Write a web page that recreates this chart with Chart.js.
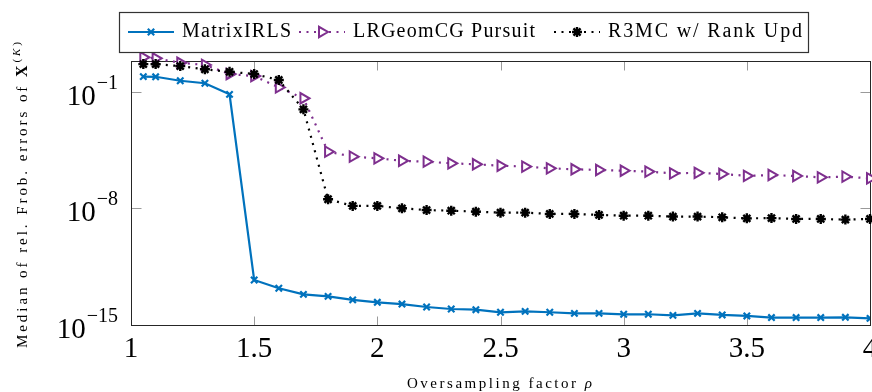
<!DOCTYPE html>
<html>
<head>
<meta charset="utf-8">
<script src="https://cdn.jsdelivr.net/npm/chart.js@4.4.1/dist/chart.umd.min.js"></script>
<style>
  html, body { margin: 0; padding: 0; background: #fff; }
  #wrap { width: 872px; height: 392px; }
</style>
</head>
<body>
<div id="wrap"><canvas id="chart" width="872" height="392"></canvas></div>
<script>
// oversampling factor rho
const rho = [1.05, 1.1, 1.2, 1.3, 1.4, 1.5, 1.6, 1.7, 1.8, 1.9, 2.0, 2.1, 2.2, 2.3, 2.4, 2.5,
  2.6, 2.7, 2.8, 2.9, 3.0, 3.1, 3.2, 3.3, 3.4, 3.5, 3.6, 3.7, 3.8, 3.9, 4.0];

// median relative Frobenius errors
const matrixIRLS = [0.8, 0.78, 0.45, 0.32, 0.069, 5e-13, 1.6e-13, 6.9e-14, 5.2e-14, 3.2e-14,
  2.3e-14, 1.8e-14, 1.2e-14, 9.1e-15, 8.3e-15, 5.8e-15, 6.6e-15, 5.8e-15, 5.0e-15, 5.0e-15,
  4.4e-15, 4.4e-15, 3.8e-15, 5.0e-15, 4.0e-15, 3.5e-15, 2.8e-15, 2.8e-15, 2.8e-15, 2.9e-15, 2.5e-15];
const lrGeomCG = [11.5, 10, 5.4, 4.0, 1.14, 0.86, 0.18, 0.04, 2.5e-5, 1.26e-5,
  1.0e-5, 7.1e-6, 6.3e-6, 5.0e-6, 4.4e-6, 3.6e-6, 3.2e-6, 2.5e-6, 2.2e-6, 2.0e-6,
  1.8e-6, 1.6e-6, 1.26e-6, 1.35e-6, 1.15e-6, 8.9e-7, 1.0e-6, 8.7e-7, 7.2e-7, 7.9e-7, 6.3e-7];
const r3mc = [4.5, 4.5, 3.4, 2.2, 1.55, 1.14, 0.5, 8.7e-3, 3.5e-8, 1.4e-8,
  1.4e-8, 1.0e-8, 7.9e-9, 7.2e-9, 6.3e-9, 5.5e-9, 5.5e-9, 4.6e-9, 4.6e-9, 4.0e-9,
  3.6e-9, 3.6e-9, 3.2e-9, 3.2e-9, 2.9e-9, 2.5e-9, 2.6e-9, 2.3e-9, 2.3e-9, 2.1e-9, 2.3e-9];

const seriesNames = ['MatrixIRLS', 'LRGeomCG Pursuit', 'R3MC w/ Rank Upd'];

const xTickValues = [1, 1.5, 2, 2.5, 3, 3.5, 4];
const xTickLabels = ['1', '1.5', '2', '2.5', '3', '3.5', '4'];
const yTickExponents = [-1, -8, -15];

const SERIF = '"Liberation Serif", "DejaVu Serif", serif';

function toPoints(ys) {
  return rho.map((x, i) => ({ x: x, y: ys[i] }));
}

// text with extra letter spacing so it fills a given width
function spacedWidth(ctx, text) {
  let w = 0;
  for (const c of text) w += ctx.measureText(c).width;
  return w;
}

function drawSpaced(ctx, text, x, y, sp) {
  let cx = x;
  for (const c of text) {
    ctx.fillText(c, cx, y);
    cx += ctx.measureText(c).width + sp;
  }
  return cx;
}

// runs of [text, font, rise] spread over targetWidth
function drawRuns(ctx, runs, x, y, targetWidth) {
  let natural = 0, count = 0;
  runs.forEach((r) => {
    ctx.font = r[1];
    natural += spacedWidth(ctx, r[0]);
    count += [...r[0]].length;
  });
  const sp = count > 1 ? (targetWidth - natural) / (count - 1) : 0;
  let cx = x;
  runs.forEach((r) => {
    ctx.font = r[1];
    cx = drawSpaced(ctx, r[0], cx, y - (r[2] || 0), sp);
  });
}

const decor = {
  id: 'decor',
  beforeDatasetsDraw(chart) {
    const { ctx, chartArea: a, scales } = chart;
    const L = Math.round(a.left) + 0.5, R = Math.round(a.right) + 0.5;
    const T = Math.round(a.top) + 0.5, B = Math.round(a.bottom) + 0.5;
    ctx.save();
    ctx.strokeStyle = '#9a9a9a';
    ctx.lineWidth = 1;
    ctx.beginPath();
    xTickValues.forEach((v) => {
      const px = Math.round(scales.x.getPixelForValue(v)) + 0.5;
      ctx.moveTo(px, B); ctx.lineTo(px, B - 9);
      ctx.moveTo(px, T); ctx.lineTo(px, T + 9);
    });
    yTickExponents.forEach((e) => {
      const py = Math.round(scales.y.getPixelForValue(Math.pow(10, e))) + 0.5;
      ctx.moveTo(L, py); ctx.lineTo(L + 10, py);
      ctx.moveTo(R, py); ctx.lineTo(R - 10, py);
    });
    ctx.stroke();
    ctx.strokeStyle = '#262626';
    ctx.strokeRect(L, T, R - L, B - T);
    ctx.restore();
  },
  afterDraw(chart) {
    const { ctx, scales } = chart;
    ctx.save();
    ctx.fillStyle = '#000';

    // x tick labels
    ctx.font = '29px ' + SERIF;
    ctx.textAlign = 'center';
    ctx.textBaseline = 'alphabetic';
    xTickValues.forEach((v, i) => {
      ctx.fillText(xTickLabels[i], scales.x.getPixelForValue(v), 357);
    });

    // y tick labels 10^e
    ctx.textAlign = 'right';
    yTickExponents.forEach((e) => {
      const py = scales.y.getPixelForValue(Math.pow(10, e));
      const exp = '\u2212' + String(-e);
      ctx.font = '20px ' + SERIF;
      const ew = ctx.measureText(exp).width;
      ctx.fillText(exp, 118, py + 13 - 16);
      ctx.font = '29px ' + SERIF;
      ctx.fillText('10', 118 - ew - 1, py + 13);
    });

    // axis titles
    ctx.textAlign = 'left';
    drawRuns(ctx, [['Oversampling factor ', '15px ' + SERIF], ['\u03c1', 'italic 15px ' + SERIF]],
      407, 388, 185);

    ctx.save();
    ctx.translate(27, 195);
    ctx.rotate(-Math.PI / 2);
    drawRuns(ctx, [
      ['Median of rel. Frob. errors of ', '15px ' + SERIF],
      ['X', 'bold 16px ' + SERIF],
      ['(', '11px ' + SERIF, 7],
      ['K', 'italic 11px ' + SERIF, 7],
      [')', '11px ' + SERIF, 7],
    ], -153, 0, 306);
    ctx.restore();

    // legend
    ctx.fillStyle = '#fff';
    ctx.fillRect(119.5, 12.5, 689, 40);
    ctx.strokeStyle = '#333';
    ctx.lineWidth = 1.2;
    ctx.strokeRect(119.5, 12.5, 689, 40);
    const textX = [182, 353, 608];
    const textW = [109, 182, 194];
    chart.data.datasets.forEach((ds, i) => {
      const x1 = textX[i] - 54, x2 = textX[i] - 8, y = 32;
      ctx.save();
      ctx.strokeStyle = ds.borderColor;
      ctx.lineWidth = ds.borderWidth;
      ctx.setLineDash(ds.borderDash || []);
      ctx.beginPath();
      ctx.moveTo(x1, y); ctx.lineTo(x2, y);
      ctx.stroke();
      ctx.setLineDash([]);
      ctx.strokeStyle = ds.pointBorderColor;
      ctx.fillStyle = ds.pointBackgroundColor;
      ctx.lineWidth = ds.pointBorderWidth;
      Chart.helpers.drawPoint(ctx, {
        pointStyle: ds.pointStyle, radius: ds.pointRadius,
        rotation: ds.pointRotation || 0, borderWidth: ds.pointBorderWidth,
      }, (x1 + x2) / 2, y);
      ctx.restore();
      ctx.fillStyle = '#000';
      ctx.textAlign = 'left';
      drawRuns(ctx, [[ds.label, '20px ' + SERIF]], textX[i], 36.5, textW[i]);
    });
    ctx.restore();
  },
};

new Chart(document.getElementById('chart'), {
  type: 'line',
  data: {
    datasets: [
      {
        label: seriesNames[0],
        data: toPoints(matrixIRLS),
        borderColor: '#0072BD',
        borderWidth: 2.2,
        pointStyle: 'crossRot',
        pointRadius: 4.5,
        pointBorderWidth: 2.2,
        pointBorderColor: '#0072BD',
        pointBackgroundColor: '#0072BD',
        order: 3,
      },
      {
        label: seriesNames[1],
        data: toPoints(lrGeomCG),
        borderColor: '#7E2F8E',
        borderWidth: 2.2,
        borderDash: [2, 5.5],
        pointStyle: 'triangle',
        pointRotation: 90,
        pointRadius: 6,
        pointBorderWidth: 2,
        pointBorderColor: '#7E2F8E',
        pointBackgroundColor: '#fff',
        order: 2,
        clip: 8,
      },
      {
        label: seriesNames[2],
        data: toPoints(r3mc),
        borderColor: '#000',
        borderWidth: 2.2,
        borderDash: [2, 5.5],
        pointStyle: 'star',
        pointRadius: 5,
        pointBorderWidth: 2.4,
        pointBorderColor: '#000',
        pointBackgroundColor: '#000',
        order: 1,
        clip: 8,
      },
    ],
  },
  options: {
    responsive: false,
    animation: false,
    devicePixelRatio: 1,
    layout: { autoPadding: false, padding: { left: 131, right: 2, top: 61, bottom: 67 } },
    elements: { line: { tension: 0 } },
    scales: {
      x: { type: 'linear', min: 1, max: 4, display: false },
      y: { type: 'logarithmic', min: 1e-15, max: 6.9, display: false },
    },
    plugins: {
      legend: { display: false },
      tooltip: { enabled: false },
    },
  },
  plugins: [decor],
});
</script>
</body>
</html>
